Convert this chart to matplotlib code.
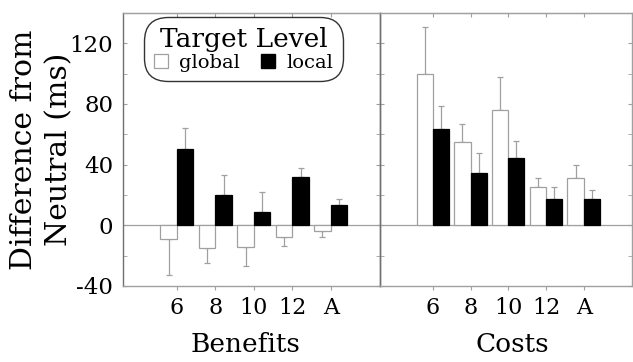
import matplotlib
matplotlib.use("Agg")
from matplotlib import pyplot as plt
from matplotlib.patches import Patch
from matplotlib.ticker import MultipleLocator
import numpy as np

categories = ["6", "8", "10", "12", "A"]

# benefits (neutral - valid), ms
benefit_global = [-9, -15, -14, -7.5, -3.5]
benefit_global_err = [24, 10, 13, 6, 4]
benefit_local = [50, 20, 9, 32, 13.5]
benefit_local_err = [14, 13, 13, 5.5, 4]

# costs (invalid - neutral), ms
cost_global = [100, 55, 76, 25, 31]
cost_global_err = [31, 12, 22, 6.5, 8.5]
cost_local = [63.5, 34.5, 44.5, 17.5, 17.5]
cost_local_err = [15.5, 13, 11, 7.5, 5.5]

plt.rcParams['font.family'] = ['DejaVu Serif']
grey = "#a0a0a0"
dark = "#707070"

fig = plt.figure(figsize=(6.33, 3.62), dpi=100)
ax1 = fig.add_axes([123 / 633, 76 / 362, 257 / 633, 273 / 362])
ax2 = fig.add_axes([380 / 633, 76 / 362, 252 / 633, 273 / 362])
ax2.patch.set_visible(False)

x = np.arange(len(categories))
w = 0.43


def draw_panel(ax, g, g_err, l, l_err, title, label_x):
    g = np.array(g)
    l = np.array(l)
    # error bars point away from zero
    g_lo = np.where(g < 0, g_err, 0)
    g_hi = np.where(g >= 0, g_err, 0)
    l_lo = np.where(l < 0, l_err, 0)
    l_hi = np.where(l >= 0, l_err, 0)
    ax.axhline(0, color=grey, lw=0.9, zorder=1)
    ax.bar(x - w / 2, g, w, color="white", edgecolor=grey, lw=0.9, zorder=3,
           yerr=[g_lo, g_hi], error_kw=dict(ecolor=grey, elinewidth=0.9, capsize=2.5, capthick=0.9, zorder=2))
    ax.bar(x + w / 2, l, w, color="black", edgecolor="black", lw=0.9, zorder=3,
           yerr=[l_lo, l_hi], error_kw=dict(ecolor=grey, elinewidth=0.9, capsize=2.5, capthick=0.9, zorder=2))
    ax.set_xlim(-1.4, 5.28)
    ax.set_ylim(-40, 140)
    ax.set_xticks(x)
    ax.set_xticklabels(categories, fontsize=16)
    ax.yaxis.set_major_locator(MultipleLocator(40))
    ax.yaxis.set_minor_locator(MultipleLocator(20))
    ax.tick_params(axis="x", direction="out", length=3, color=grey, pad=5)
    ax.tick_params(axis="y", which="both", direction="in", length=3, color=grey, right=True)
    top = ax.secondary_xaxis("top")
    top.set_xticks(x)
    top.tick_params(direction="in", length=3, color=grey, labeltop=False)
    top.spines["top"].set_color(grey)
    for s in ax.spines.values():
        s.set_color(grey)
        s.set_linewidth(1)
    ax.set_xlabel(title, fontsize=19, labelpad=9)
    ax.xaxis.label.set_x(label_x)


draw_panel(ax1, benefit_global, benefit_global_err, benefit_local, benefit_local_err, "Benefits", 0.475)
draw_panel(ax2, cost_global, cost_global_err, cost_local, cost_local_err, "Costs", 0.524)

ax1.spines["left"].set_color(dark)
ax1.spines["right"].set_color(dark)
ax2.spines["left"].set_color(dark)
ax2.tick_params(axis="y", labelleft=False)
ax1.set_yticks([-40, 0, 40, 80, 120])
ax1.set_yticklabels(["-40", "0", "40", "80", "120"], fontsize=16.5)
ax1.tick_params(axis="y", pad=7)
ax1.set_ylabel("Difference from\nNeutral (ms)", fontsize=21.5, linespacing=1.35, labelpad=-3)

handles = [Patch(facecolor="white", edgecolor=grey, lw=0.9, label="global"),
           Patch(facecolor="black", edgecolor="black", label="local")]
leg = ax1.legend(handles=handles, title="Target Level", ncol=2, loc="upper center",
                 bbox_to_anchor=(0.47, 1.005), fontsize=14, title_fontsize=19,
                 handlelength=0.7, handleheight=0.7, handletextpad=0.6, columnspacing=1.1,
                 borderpad=0.3, labelspacing=0.2, frameon=True, fancybox=True)
frame = leg.get_frame()
frame.set_edgecolor("black")
frame.set_linewidth(1.0)
frame.set_boxstyle("round,pad=0.2,rounding_size=1.2")
leg._legend_box.sep = 1

fig.savefig("out.png", dpi=100)
